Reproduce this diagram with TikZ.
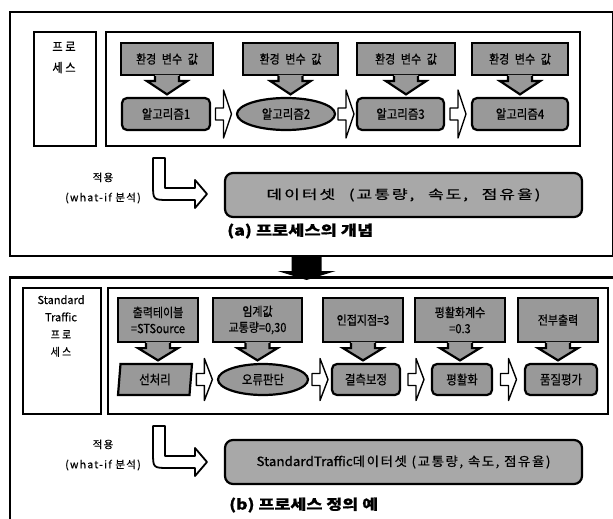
\documentclass[tikz,border=0pt]{standalone}
\usepackage{fontspec}
\usepackage{graphicx}
\setmainfont{Noto Sans CJK KR}[FakeBold=0.5]
\newfontfamily\krsp[LetterSpace=12,FakeBold=0.5]{Noto Sans CJK KR}
\newfontfamily\krwide[LetterSpace=20,FakeBold=0.6,FakeStretch=0.9]{Noto Sans CJK KR}
\newfontfamily\krbox[FakeStretch=0.88,FakeBold=0.6]{Noto Sans CJK KR}
\newfontfamily\krdata[LetterSpace=12,FakeBold=0.6]{Noto Sans CJK KR}
\newcommand\callfont{\krbox\fontsize{12.5}{16}\selectfont\spaceskip=0.45em\relax}
\newcommand\datafont{\krdata\fontsize{11}{13}\selectfont\spaceskip=0.8em\relax}
\usetikzlibrary{shapes.geometric,calc}
\definecolor{cfill}{gray}{0.60}
\definecolor{dfill}{gray}{0.66}
\tikzset{
  framebox/.style={draw, line width=2.2pt, inner sep=0pt},
  lblbox/.style={draw, line width=1.8pt, inner sep=0pt},
  procbox/.style={draw, line width=1.8pt, inner sep=0pt},
  callbox/.style={draw, line width=2.2pt, fill=cfill, inner sep=0pt, align=center,
     font=\callfont},
  algbox/.style={draw, line width=2.2pt, fill=cfill, rounded corners=5pt, inner sep=0pt,
     font=\krbox\fontsize{13}{15}\selectfont},
  algell/.style={ellipse, draw, line width=2.2pt, fill=cfill, inner sep=0pt,
     font=\krbox\fontsize{13}{15}\selectfont},
  algpar/.style={trapezium, trapezium left angle=78, trapezium right angle=102,
     trapezium stretches body, draw, line width=2.2pt, fill=cfill, inner sep=0pt,
     font=\krbox\fontsize{13}{15}\selectfont},
  databox/.style={draw, line width=2.2pt, fill=dfill, rounded corners=8pt, inner sep=0pt},
  lbltext/.style={align=center, inner sep=0pt, font=\krwide\fontsize{12.5}{21}\selectfont},
  applytext/.style={align=center, inner sep=0pt, font=\krsp\fontsize{10.5}{20}\selectfont},
  captext/.style={anchor=west, inner sep=0pt, font=\bfseries},
  blockarr/.style={draw, fill=white, line width=1.4pt, line join=round},
  bentarr/.style={draw, fill=white, line width=1.8pt, line join=round}
}
% callout arrow from box #1 down to node #2
\newcommand\callarrow[2]{%
  \fill[cfill] let \p1=(#1.south), \p2=(#1.south |- #2.north) in
    (\x1-12pt,\y1+1.2pt) -- (\x1-12pt,\y1-5pt) -- (\x1-20pt,\y1-5pt) -- (\x2,\y2+2.5pt)
    -- (\x1+20pt,\y1-5pt) -- (\x1+12pt,\y1-5pt) -- (\x1+12pt,\y1+1.2pt) -- cycle;
  \draw[line width=2.2pt, line join=miter] let \p1=(#1.south), \p2=(#1.south |- #2.north) in
    (\x1-12pt,\y1) -- (\x1-12pt,\y1-5pt) -- (\x1-20pt,\y1-5pt) -- (\x2,\y2+2.5pt)
    -- (\x1+20pt,\y1-5pt) -- (\x1+12pt,\y1-5pt) -- (\x1+12pt,\y1);
}
% block arrow between #1 and #2, head half height #3
\newcommand\blockarrow[3]{%
  \draw[blockarr] let \p3=($(#1.east)!0.5!(#2.west)$) in
    (\x3-8pt,\y3+6pt) -- (\x3,\y3+6pt) -- (\x3,\y3+#3pt) -- (\x3+8pt,\y3) -- (\x3,\y3-#3pt)
    -- (\x3,\y3-6pt) -- (\x3-8pt,\y3-6pt) -- cycle;
}
\newcommand\bentarrow[1]{%
  \begin{scope}[shift={#1}]
    \draw[bentarr] (0,0) -- (12,0) -- (12,30) -- (42,30) -- (42,22) -- (54,36) -- (42,50)
      -- (42,42) -- (16,42) .. controls (0,42) .. (0,26) -- cycle;
  \end{scope}
}
\begin{document}
\begin{tikzpicture}[x=1pt,y=-1pt]
\useasboundingbox (0,0) rectangle (613,519);
\clip (0,0) rectangle (613,519);
\fill[white] (0,0) rectangle (613,519);

% ---------- (a) ----------
\node[framebox, minimum width=603pt, minimum height=244pt, anchor=north west] (fa) at (9,11) {};
\node[lblbox, minimum width=62pt, minimum height=114pt, anchor=north west] (la) at (33,31) {};
\node[lbltext] (lat) at (64,57.5) {프로\\세스};
\node[procbox, minimum width=474pt, minimum height=114pt, anchor=north west] (pa) at (105,31) {};

\node[callbox, minimum width=92pt, minimum height=32pt] (c1) at (167,59) {환경 변수 값};
\node[callbox, minimum width=95pt, minimum height=32pt] (c2) at (290.5,59) {환경 변수 값};
\node[callbox, minimum width=98pt, minimum height=32pt] (c3) at (406,59) {환경 변수 값};
\node[callbox, minimum width=96pt, minimum height=32pt] (c4) at (520,59) {환경 변수 값};

\node[algbox, minimum width=88pt, minimum height=32pt] (a1) at (166,114) {알고리즘1};
\node[algell, minimum width=98pt, minimum height=32pt] (a2) at (286,114) {알고리즘2};
\node[algbox, minimum width=87pt, minimum height=32pt] (a3) at (400.5,114) {알고리즘3};
\node[algbox, minimum width=96pt, minimum height=32pt] (a4) at (520,114) {알고리즘4};

\callarrow{c1}{a1}
\callarrow{c2}{a2}
\callarrow{c3}{a3}
\callarrow{c4}{a4}

\blockarrow{a1}{a2}{24}
\blockarrow{a2}{a3}{24}
\blockarrow{a3}{a4}{24}

\bentarrow{(153,158)}
\node[applytext] (apa) at (103,188) {적용\\(what-if 분석)};
\node[databox, minimum width=357pt, minimum height=44pt] (da) at (403.5,195)
  {\resizebox*{274pt}{13pt}{\datafont 데이터셋 (교통량, 속도, 점유율)}};
\node[captext] (capa) at (227,231) {\resizebox*{146pt}{15pt}{(a) 프로세스의 개념}};

% ---------- (b) ----------
\node[framebox, minimum width=620pt, minimum height=260pt, anchor=north west] (fb) at (9,277) {};
\fill let \p1=([xshift=-5pt]fa.south), \p2=([xshift=-5pt]fb.north) in
  (\x1-15pt,\y1) -- (\x1-15pt,\y2+6pt) -- (\x1-29pt,\y2+6pt) -- (\x1,\y2-3pt)
  -- (\x1+29pt,\y2+6pt) -- (\x1+15pt,\y2+6pt) -- (\x1+15pt,\y1) -- cycle;
\draw[line width=2.2pt] (fb.north west) -- (fb.north east);

\node[lblbox, minimum width=78pt, minimum height=126pt, anchor=north west] (lb) at (22,287) {};
\node[align=center, inner sep=0pt, font=\fontsize{11}{17.3}\selectfont] (lbt) at (61,326) {Standard\\Traffic\\{\krwide 프로}\\{\krwide 세스}};
\node[procbox, minimum width=500pt, minimum height=126pt, anchor=north west] (pb) at (107,287) {};

\node[callbox, minimum width=80pt, minimum height=44pt] (d1) at (158,320) {출력테이블\\=STSource};
\node[callbox, minimum width=89pt, minimum height=44pt] (d2) at (257.5,320) {임계값\\교통량=0,30};
\node[callbox, minimum width=80pt, minimum height=44pt] (d3) at (363,320) {인접지점=3};
\node[callbox, minimum width=90pt, minimum height=44pt] (d4) at (460,320) {평활화계수\\=0.3};
\node[callbox, minimum width=80pt, minimum height=44pt] (d5) at (558,320) {전부출력};

\node[algpar, minimum width=74pt, minimum height=31pt] (s1) at (155,379.5) {선처리};
\node[algell, minimum width=90pt, minimum height=31pt] (s2) at (263,379.5) {오류판단};
\node[algbox, minimum width=68pt, minimum height=31pt] (s3) at (366,379.5) {결측보정};
\node[algbox, minimum width=60pt, minimum height=31pt] (s4) at (462,379.5) {평활화};
\node[algbox, minimum width=72pt, minimum height=31pt] (s5) at (561,379.5) {품질평가};

\callarrow{d1}{s1}
\callarrow{d2}{s2}
\callarrow{d3}{s3}
\callarrow{d4}{s4}
\callarrow{d5}{s5}

\blockarrow{s1}{s2}{21}
\blockarrow{s2}{s3}{21}
\blockarrow{s3}{s4}{21}
\blockarrow{s4}{s5}{21}

\bentarrow{(153,426)}
\node[applytext] (apb) at (103,455) {적용\\(what-if 분석)};
\node[databox, minimum width=357pt, minimum height=44pt] (db) at (403.5,462)
  {\resizebox*{294pt}{13pt}{\fontsize{11}{13}\selectfont StandardTraffic{\krsp 데이터셋 (교통량, 속도, 점유율)}}};
\node[captext] (capb) at (229,505) {\resizebox*{149pt}{15pt}{(b) 프로세스 정의 예}};
\end{tikzpicture}
\end{document}
